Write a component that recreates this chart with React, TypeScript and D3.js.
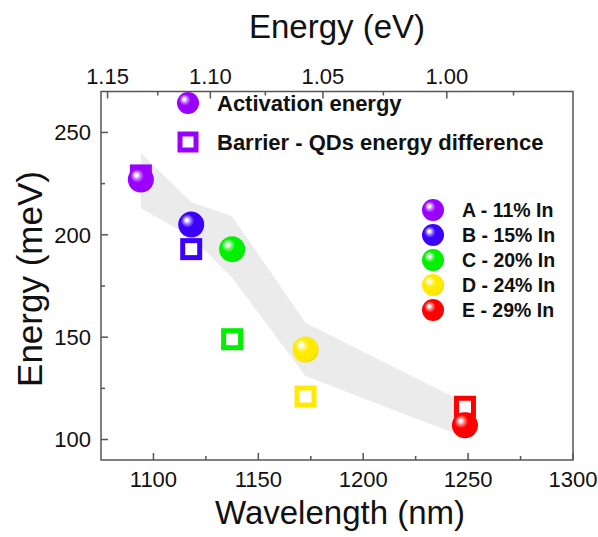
import React from "react";
import * as d3 from "d3";

const samples = ["A - 11% In", "B - 15% In", "C - 20% In", "D - 24% In", "E - 29% In"];
const sampleColors = ["#9a00ff", "#3c00ff", "#00f000", "#ffea00", "#ff0000"];
const wavelengths = [1094, 1118, 1137.5, 1172.5, 1248.5];
const activation = [227, 205, 193, 144, 107];
const barrier = [229, 193, 149, 121, 116];
const bandHigh = [240, 216, 209, 157, 118];
const bandLow = [213, 199, 179, 131, 101];

const xTicks = [1100, 1150, 1200, 1250, 1300];
const xMinor = [1125, 1175, 1225, 1275];
const yTicks = [100, 150, 200, 250];
const yMinor = [125, 175, 225];
const evTicks = [1.15, 1.1, 1.05, 1.0];
const evMinor = [1.125, 1.075, 1.025, 0.975];

const W = 598, H = 537;
const L = 101, R = 573, T = 91.5, B = 460;
const FONT = "'Liberation Sans', Arial, sans-serif";
const HC = 1239.84;

export default function App() {
  const x = d3.scaleLinear().domain([1075, 1300]).range([L, R]);
  const y = d3.scaleLinear().domain([90, 270]).range([B, T]);
  const band = d3.area<number>()
    .x((_, i) => x(wavelengths[i]))
    .y0((_, i) => y(bandLow[i]))
    .y1((_, i) => y(bandHigh[i]))
    .curve(d3.curveLinear);
  const axisColor = "#555";
  const sq = 17;
  return (
    <svg width={W} height={H} style={{ position: "absolute", left: 0, top: 0 }} fontFamily={FONT}>
      <defs>
        {sampleColors.map((c, i) => {
          const light = d3.interpolateRgb(c, "#ffffff")(0.5);
          const dark = d3.color(c)!.darker(0.25).toString();
          return (
            <radialGradient key={i} id={`g${i}`} cx="0.42" cy="0.42" r="0.62" fx="0.32" fy="0.32">
              <stop offset="0" stopColor="#ffffff" />
              <stop offset="0.08" stopColor="#ffffff" />
              <stop offset="0.22" stopColor={light} />
              <stop offset="0.42" stopColor={c} />
              <stop offset="0.85" stopColor={c} />
              <stop offset="1" stopColor={dark} />
            </radialGradient>
          );
        })}
      </defs>
      <rect x={0} y={0} width={W} height={H} fill="#fff" />
      <path d={band(wavelengths) || ""} fill="#ebebeb" />

      {/* frame */}
      <rect x={L} y={T} width={R - L} height={B - T} fill="none" stroke={axisColor} strokeWidth={1.5} />

      {/* bottom axis */}
      {xTicks.map((t) => (
        <g key={"xb" + t}>
          <line x1={x(t)} x2={x(t)} y1={B} y2={B - 7} stroke={axisColor} strokeWidth={1.5} />
          <text x={x(t)} y={487} textAnchor="middle" fontSize={22} fill="#111">{t}</text>
        </g>
      ))}
      {xMinor.map((t) => (
        <line key={"xm" + t} x1={x(t)} x2={x(t)} y1={B} y2={B - 4} stroke={axisColor} strokeWidth={1.5} />
      ))}
      {/* left axis */}
      {yTicks.map((t) => (
        <g key={"yl" + t}>
          <line x1={L} x2={L + 7} y1={y(t)} y2={y(t)} stroke={axisColor} strokeWidth={1.5} />
          <text x={91} y={y(t)} dy="0.35em" textAnchor="end" fontSize={22} fill="#111">{t}</text>
        </g>
      ))}
      {yMinor.map((t) => (
        <line key={"ym" + t} x1={L} x2={L + 4} y1={y(t)} y2={y(t)} stroke={axisColor} strokeWidth={1.5} />
      ))}
      {/* top axis (energy) */}
      {evTicks.map((e) => (
        <g key={"ev" + e}>
          <line x1={x(HC / e)} x2={x(HC / e)} y1={T} y2={T + 7} stroke={axisColor} strokeWidth={1.5} />
          <text x={x(HC / e)} y={84} textAnchor="middle" fontSize={22} fill="#111">{e.toFixed(2)}</text>
        </g>
      ))}
      {evMinor.map((e) => (
        <line key={"evm" + e} x1={x(HC / e)} x2={x(HC / e)} y1={T} y2={T + 4} stroke={axisColor} strokeWidth={1.5} />
      ))}

      {/* titles */}
      <text x={(L + R) / 2} y={38} textAnchor="middle" fontSize={33} fill="#111">Energy (eV)</text>
      <text x={340} y={524} textAnchor="middle" fontSize={33} fill="#111">Wavelength (nm)</text>
      <text transform={`translate(42,279) rotate(-90)`} textAnchor="middle" fontSize={35} fill="#111">Energy (meV)</text>

      {/* squares */}
      {wavelengths.map((w, i) => (
        <rect key={"s" + i} x={x(w) - sq / 2} y={y(barrier[i]) - sq / 2} width={sq} height={sq}
          fill="#fff" stroke={sampleColors[i]} strokeWidth={5} />
      ))}
      {/* circles */}
      {wavelengths.map((w, i) => (
        <circle key={"c" + i} cx={x(w)} cy={y(activation[i])} r={13} fill={`url(#g${i})`} />
      ))}

      {/* legend 1 */}
      <circle cx={188} cy={103} r={11} fill="url(#g0)" />
      <text x={217} y={111} fontSize={22} fontWeight="bold" fill="#111">Activation energy</text>
      <rect x={188 - 8} y={142 - 8} width={16} height={16} fill="#fff" stroke={sampleColors[0]} strokeWidth={5} />
      <text x={217} y={150} fontSize={22} fontWeight="bold" fill="#111">Barrier - QDs energy difference</text>

      {/* legend 2 */}
      {samples.map((s, i) => (
        <g key={"l" + i}>
          <circle cx={433} cy={210 + i * 25} r={11} fill={`url(#g${i})`} />
          <text x={462} y={210 + i * 25} dy="0.36em" fontSize={19.5} fontWeight="bold" fill="#111">{s}</text>
        </g>
      ))}
    </svg>
  );
}
